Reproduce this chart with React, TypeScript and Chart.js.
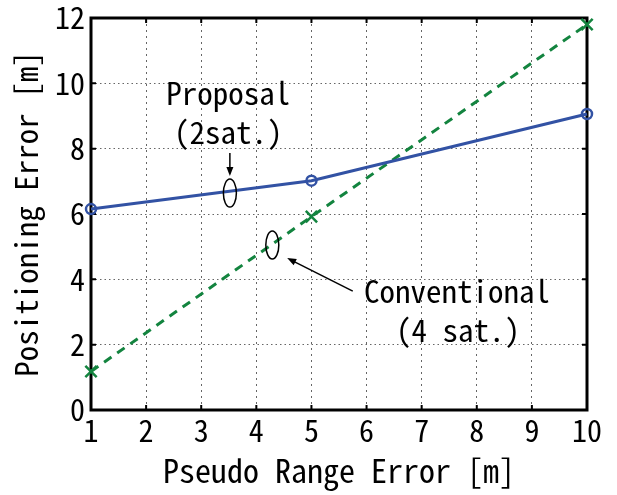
import React, { useEffect, useRef } from "react";
import { Chart, registerables } from "chart.js";

Chart.register(...registerables);

// ---- data ----
const pseudoRangeError = [1, 5, 10];
const proposalError = [6.15, 7.02, 9.06];
const conventionalError = [1.18, 5.92, 11.8];
const xTickValues = [1, 2, 3, 4, 5, 6, 7, 8, 9, 10];
const yTickValues = [0, 2, 4, 6, 8, 10, 12];

const xTitle = "Pseudo Range Error [m]";
const yTitle = "Positioning Error [m]";
const proposalLabel = ["Proposal", "(2sat.)"];
const conventionalLabel = ["Conventional", "(4 sat.)"];

// annotation anchors in data units
const proposalTextPos = [
  [3.49, 9.7],
  [3.49, 8.51],
];
const conventionalTextPos = [
  [7.64, 3.64],
  [7.66, 2.45],
];
const proposalEllipse = [3.52, 6.64];
const conventionalEllipse = [4.29, 5.05];
const proposalArrow = [
  [3.52, 7.87],
  [3.52, 7.16],
];
const conventionalArrow = [
  [5.75, 3.64],
  [4.56, 4.65],
];

const FONT = "'Noto Sans Mono CJK JP', 'Noto Sans CJK JP', monospace";

function drawArrow(ctx: CanvasRenderingContext2D, x1: number, y1: number, x2: number, y2: number) {
  const ang = Math.atan2(y2 - y1, x2 - x1);
  const hl = 9;
  const hw = 3.5;
  ctx.beginPath();
  ctx.moveTo(x1, y1);
  ctx.lineTo(x2 - Math.cos(ang) * hl * 0.8, y2 - Math.sin(ang) * hl * 0.8);
  ctx.stroke();
  ctx.beginPath();
  ctx.moveTo(x2, y2);
  ctx.lineTo(x2 - Math.cos(ang) * hl - Math.sin(ang) * hw, y2 - Math.sin(ang) * hl + Math.cos(ang) * hw);
  ctx.lineTo(x2 - Math.cos(ang) * hl + Math.sin(ang) * hw, y2 - Math.sin(ang) * hl - Math.cos(ang) * hw);
  ctx.closePath();
  ctx.fill();
}

const framePlugin = {
  id: "frame",
  beforeDatasetsDraw(chart: any) {
    const { ctx, chartArea, scales } = chart;
    const { left, right, top, bottom } = chartArea;
    ctx.save();
    ctx.setLineDash([]);
    ctx.strokeStyle = "#000";
    ctx.lineWidth = 2;
    const tl = 5;
    ctx.beginPath();
    xTickValues.forEach((v) => {
      const x = scales.x.getPixelForValue(v);
      ctx.moveTo(x, bottom);
      ctx.lineTo(x, bottom - tl);
      ctx.moveTo(x, top);
      ctx.lineTo(x, top + tl);
    });
    yTickValues.forEach((v) => {
      const y = scales.y.getPixelForValue(v);
      ctx.moveTo(left, y);
      ctx.lineTo(left + tl, y);
      ctx.moveTo(right, y);
      ctx.lineTo(right - tl, y);
    });
    ctx.stroke();
    ctx.lineWidth = 3;
    ctx.strokeRect(left, top, right - left, bottom - top);
    ctx.restore();
  },
  afterDraw(chart: any) {
    const { ctx, scales } = chart;
    const px = (p: number[]) => [scales.x.getPixelForValue(p[0]), scales.y.getPixelForValue(p[1])];
    ctx.save();
    ctx.setLineDash([]);
    ctx.fillStyle = "#000";
    ctx.strokeStyle = "#000";
    ctx.font = `31px ${FONT}`;
    ctx.textAlign = "center";
    ctx.textBaseline = "middle";
    proposalLabel.forEach((t, i) => {
      const [x, y] = px(proposalTextPos[i]);
      ctx.fillText(t, x, y);
    });
    conventionalLabel.forEach((t, i) => {
      const [x, y] = px(conventionalTextPos[i]);
      ctx.fillText(t, x, y);
    });
    ctx.lineWidth = 1.5;
    [proposalEllipse, conventionalEllipse].forEach((e) => {
      const [x, y] = px(e);
      ctx.beginPath();
      ctx.ellipse(x, y, 6.5, 14, 0, 0, Math.PI * 2);
      ctx.stroke();
    });
    [proposalArrow, conventionalArrow].forEach((a) => {
      const [x1, y1] = px(a[0]);
      const [x2, y2] = px(a[1]);
      drawArrow(ctx, x1, y1, x2, y2);
    });
    ctx.restore();
  },
};

export default function App() {
  const ref = useRef<HTMLCanvasElement | null>(null);
  useEffect(() => {
    if (!ref.current) return;
    const chart = new Chart(ref.current, {
      type: "scatter",
      data: {
        datasets: [
          {
            label: "Proposal (2sat.)",
            data: pseudoRangeError.map((x, i) => ({ x, y: proposalError[i] })),
            showLine: true,
            borderColor: "#3252a4",
            backgroundColor: "rgba(0,0,0,0)",
            borderWidth: 3,
            pointStyle: "circle",
            pointRadius: 5,
            pointBorderWidth: 2.5,
            pointBorderColor: "#3252a4",
            pointBackgroundColor: "rgba(0,0,0,0)",
            clip: false as any,
          },
          {
            label: "Conventional (4 sat.)",
            data: pseudoRangeError.map((x, i) => ({ x, y: conventionalError[i] })),
            showLine: true,
            borderColor: "#13843f",
            backgroundColor: "rgba(0,0,0,0)",
            borderWidth: 3,
            borderDash: [9, 7],
            pointStyle: "crossRot",
            pointRadius: 8,
            pointBorderWidth: 2.5,
            pointBorderColor: "#13843f",
            clip: false as any,
          },
        ],
      },
      options: {
        animation: false,
        responsive: false,
        maintainAspectRatio: false,
        layout: { padding: { top: 18, right: 30, left: 0, bottom: 0 } },
        plugins: { legend: { display: false }, tooltip: { enabled: false } },
        scales: {
          x: {
            type: "linear",
            min: 1,
            max: 10,
            afterBuildTicks: (s: any) => {
              s.ticks = xTickValues.map((v) => ({ value: v }));
            },
            afterFit: (s: any) => {
              s.height = 85;
              s.paddingLeft = 0;
              s.paddingRight = 0;
            },
            grid: { color: "#666", lineWidth: 1, drawTicks: false },
            border: { display: false, dash: [2, 4] },
            ticks: { font: { family: FONT, size: 30 }, color: "#000", padding: 3, maxRotation: 0, autoSkip: false },
            title: { display: true, text: xTitle, color: "#000", font: { family: FONT, size: 32 }, padding: { top: 0, bottom: 5 } },
          },
          y: {
            type: "linear",
            min: 0,
            max: 12,
            afterBuildTicks: (s: any) => {
              s.ticks = yTickValues.map((v) => ({ value: v }));
            },
            afterFit: (s: any) => {
              s.width = 91;
              s.paddingTop = 0;
              s.paddingBottom = 0;
            },
            grid: { color: "#666", lineWidth: 1, drawTicks: false },
            border: { display: false, dash: [1.5, 3] },
            ticks: { font: { family: FONT, size: 30 }, color: "#000", padding: 6, autoSkip: false },
            title: { display: true, text: yTitle, color: "#000", font: { family: FONT, size: 31 }, padding: { top: 8, bottom: 0 } },
          },
        },
      },
      plugins: [framePlugin],
    });
    return () => chart.destroy();
  }, []);
  return (
    <div style={{ position: "fixed", left: 0, top: 0, width: 617, height: 495, background: "#fff" }}>
      <canvas ref={ref} width={617} height={495} style={{ width: 617, height: 495 }} />
    </div>
  );
}
